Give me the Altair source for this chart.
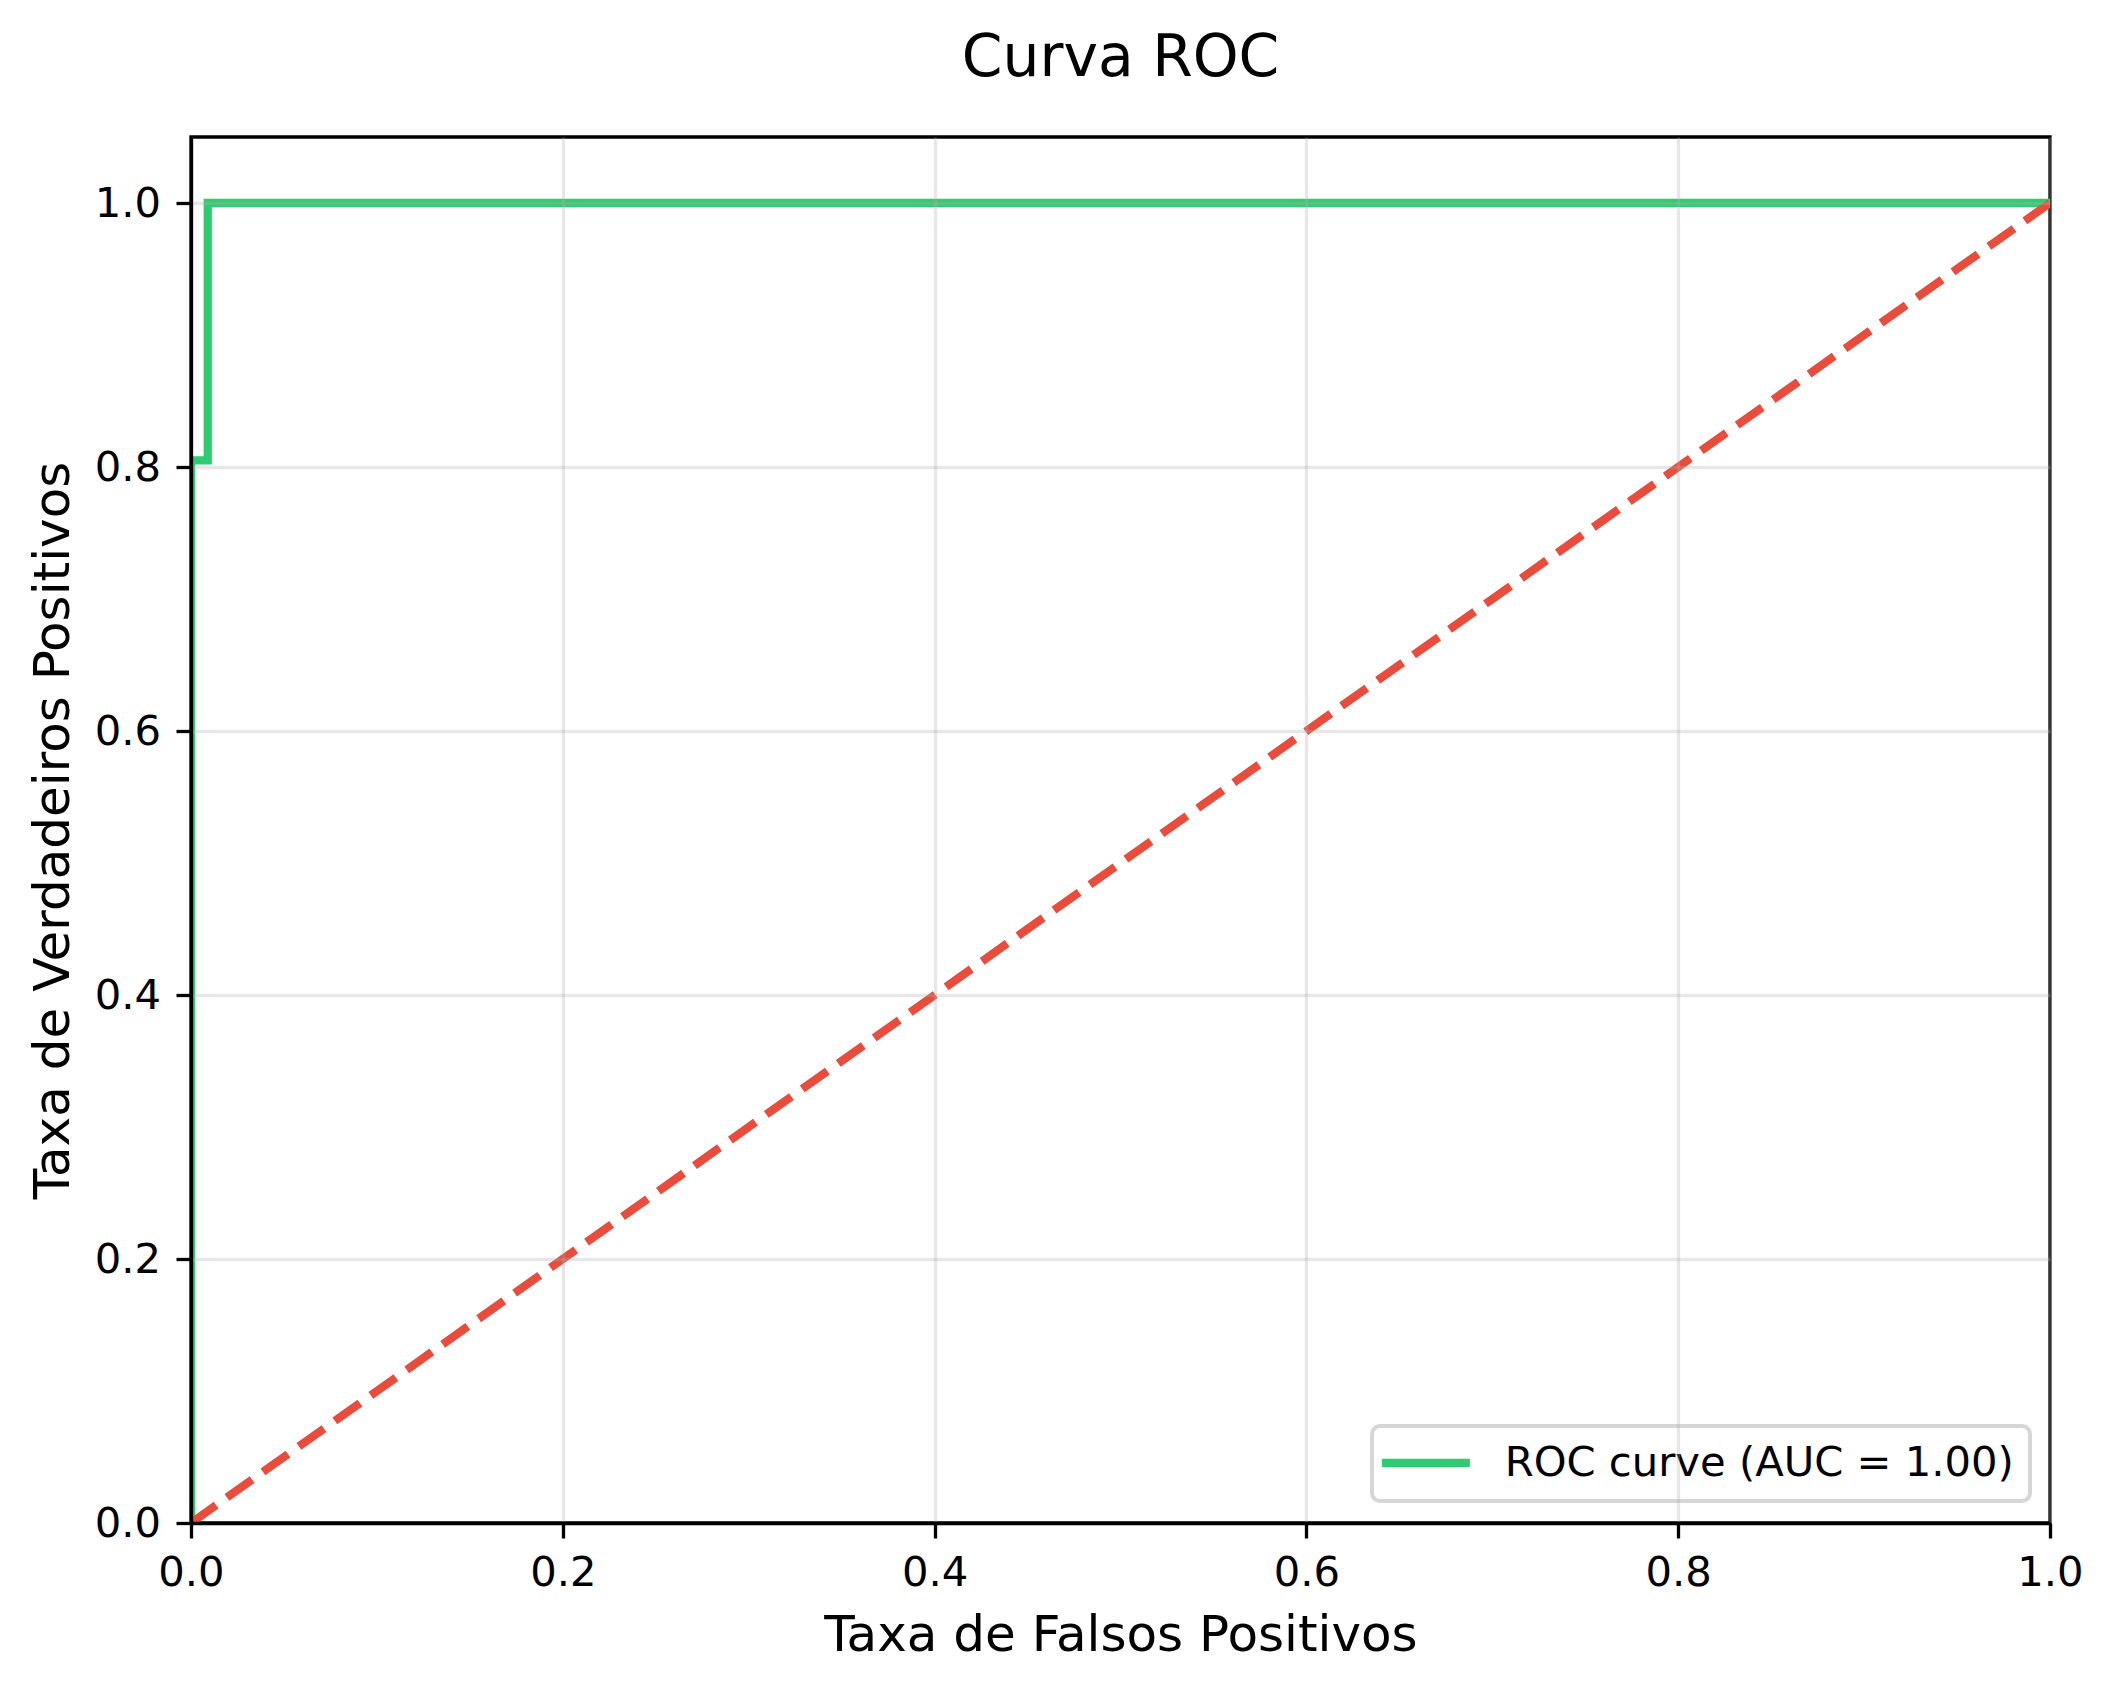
import altair as alt
import pandas as pd

# ---- data ----
fpr = [0.0, 0.0, 0.009, 0.009, 1.0]
tpr = [0.0, 0.805, 0.805, 1.0, 1.0]
diag_x = [0.0, 1.0]
diag_y = [0.0, 1.0]
tick_values = [0.0, 0.2, 0.4, 0.6, 0.8, 1.0]
roc_label = "ROC curve (AUC = 1.00)"

roc_df = pd.DataFrame({"fpr": fpr, "tpr": tpr, "i": list(range(len(fpr))),
                       "serie": [roc_label] * len(fpr)})
diag_df = pd.DataFrame({"fpr": diag_x, "tpr": diag_y, "i": [0, 1]})

FONT = "DejaVu Sans"
W, H = 1859, 1386

x_scale = alt.Scale(domain=[0, 1], nice=False, zero=False)
y_scale = alt.Scale(domain=[0, 1.05], nice=False, zero=False)

common_axis = dict(
    values=tick_values, format=".1f", labelFont=FONT, labelFontSize=41.7,
    labelColor="black", titleFont=FONT, titleFontSize=50, titleFontWeight="normal",
    titleColor="black", domainColor="black", domainWidth=3.3, tickColor="black",
    tickWidth=3.3, tickSize=15, gridColor="#b0b0b0", gridOpacity=0.3, gridWidth=3.3,
    zindex=1, titleBaseline="alphabetic", titleAlign="center", labelFlush=False,
    labelOverlap=False,
)

x_axis = alt.Axis(title="Taxa de Falsos Positivos", labelPadding=14,
                  titleX=W / 2, titleY=127, **common_axis)
y_axis = alt.Axis(title="Taxa de Verdadeiros Positivos", labelPadding=15.5,
                  titleX=-123, titleY=H / 2, titleAngle=270, **common_axis)

roc = alt.Chart(roc_df).mark_line(strokeWidth=8.3, clip=True, strokeCap="butt",
                                  strokeJoin="miter").encode(
    x=alt.X("fpr:Q", scale=x_scale, axis=x_axis),
    y=alt.Y("tpr:Q", scale=y_scale, axis=y_axis),
    order=alt.Order("i:Q"),
    color=alt.Color("serie:N", scale=alt.Scale(domain=[roc_label], range=["#2ecc71"]),
                    legend=alt.Legend(
                        title=None, orient="none", legendX=1181, legendY=1289,
                        symbolType="M-2.45,0H5.55", symbolSize=484, symbolStrokeWidth=8.3,
                        symbolFillColor="transparent",
                        labelFont=FONT, labelFontSize=41.7, labelColor="black",
                        labelLimit=1000, labelOffset=75, padding=16,
                        strokeColor="#d6d6d6", fillColor="white", cornerRadius=8)),
)

diag = alt.Chart(diag_df).mark_line(strokeWidth=8.3, clip=True, strokeDash=[30.8, 13.3],
                                    strokeCap="butt", color="#e74c3c").encode(
    x=alt.X("fpr:Q", scale=x_scale),
    y=alt.Y("tpr:Q", scale=y_scale),
    order=alt.Order("i:Q"),
)

chart = alt.layer(roc, diag).properties(
    width=W, height=H,
    autosize=alt.AutoSizeParams(type="none"),
    padding={"left": 183, "top": 129, "right": 55, "bottom": 158},
    title=alt.Title("Curva ROC", font=FONT, fontSize=58.3, fontWeight="normal",
                    color="black", offset=3, baseline="alphabetic", anchor="middle"),
).configure_view(stroke="black", strokeWidth=3.3).configure_legend(strokeWidth=4)

chart.save("out.html", embed_options={"renderer": "svg", "actions": False})
